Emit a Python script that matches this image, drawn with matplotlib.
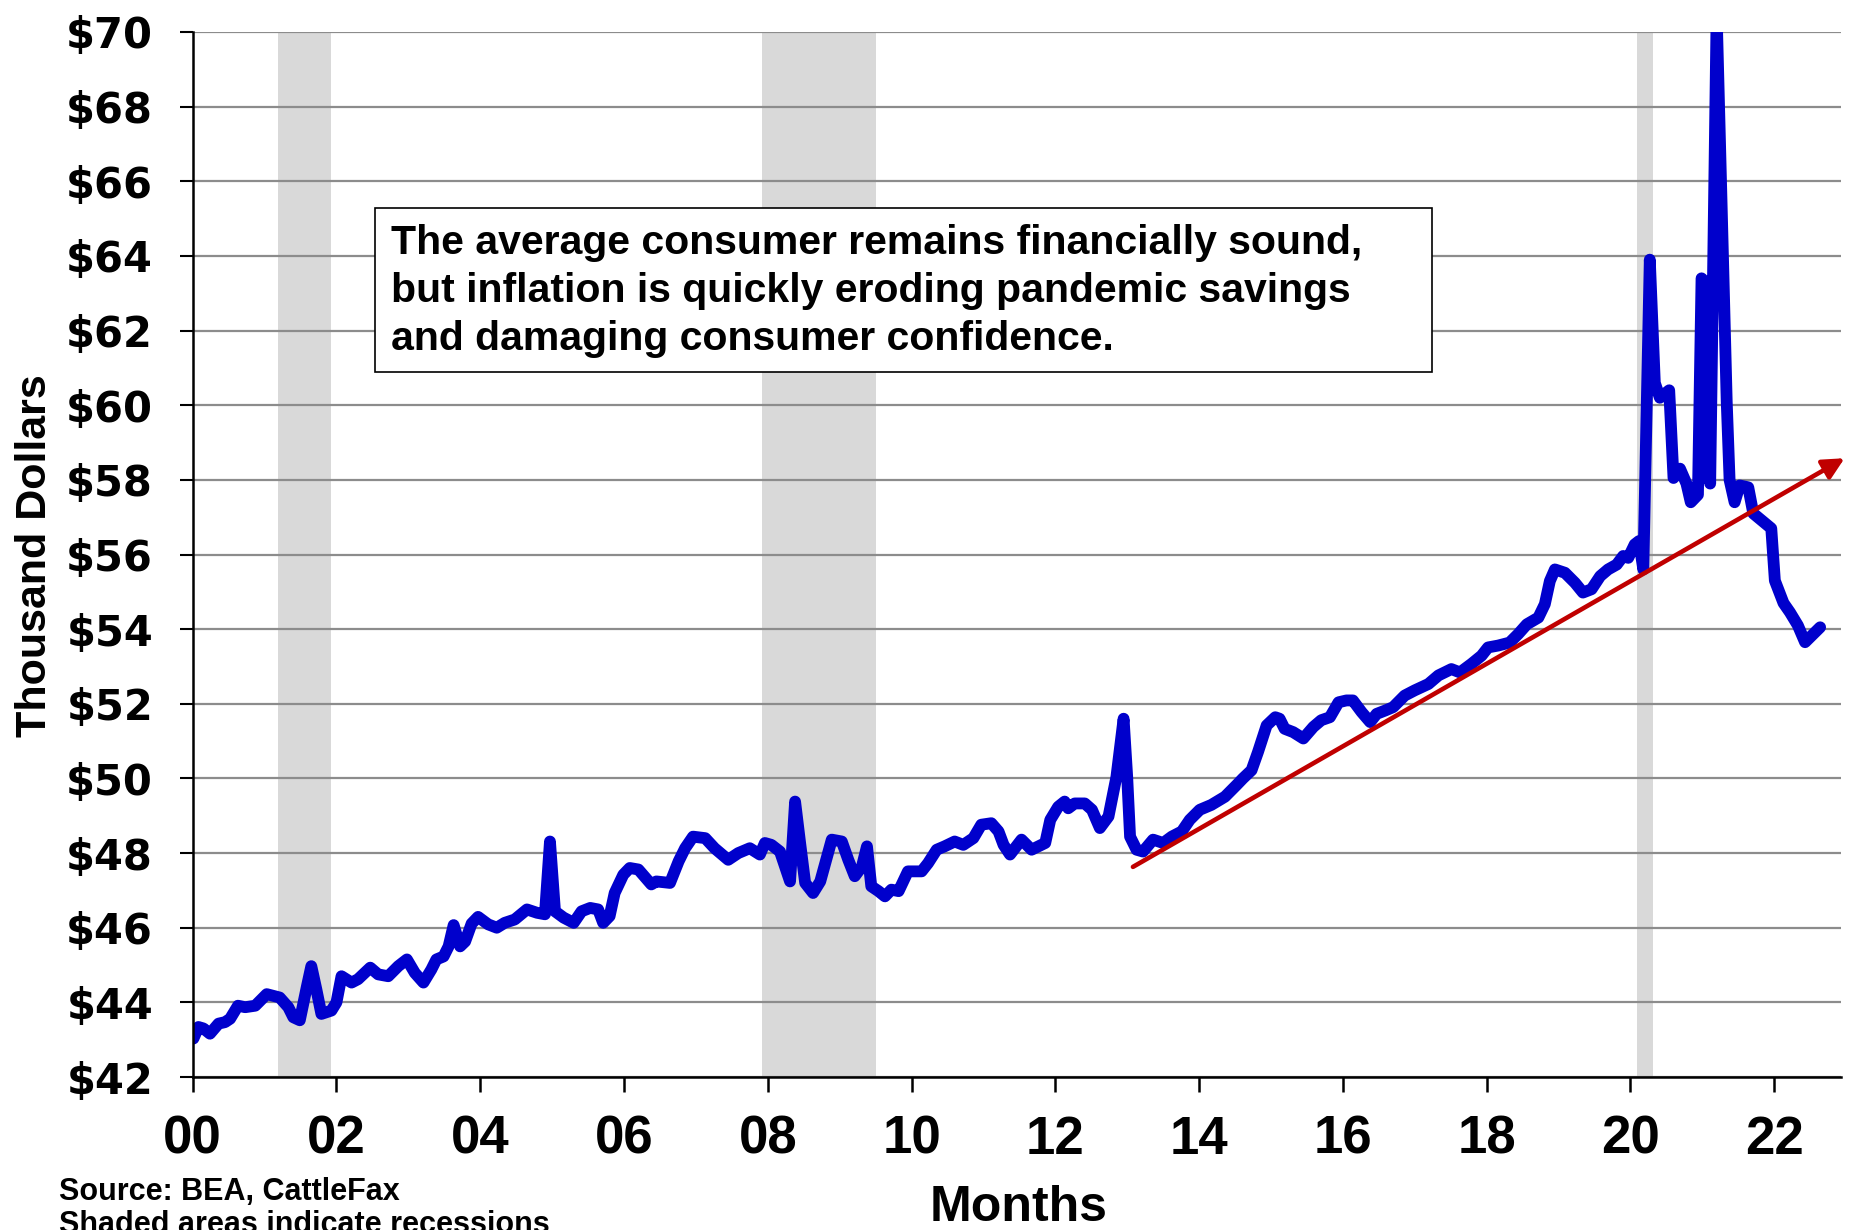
import matplotlib
matplotlib.use("Agg")
import matplotlib.pyplot as plt
from matplotlib.patches import Rectangle

# Per-capita disposable income (year, thousand dollars)
years = [
    2000.01, 2000.08, 2000.15, 2000.24, 2000.36, 2000.45, 2000.52, 2000.63, 2000.73, 2000.87,
    2001.03, 2001.21, 2001.33, 2001.40, 2001.49, 2001.59, 2001.65, 2001.72, 2001.79, 2001.93,
    2002.00, 2002.07, 2002.21, 2002.30, 2002.47, 2002.58, 2002.72, 2002.86, 2002.98, 2003.09,
    2003.21, 2003.32, 2003.39, 2003.49, 2003.56, 2003.63, 2003.72, 2003.79, 2003.88, 2003.97,
    2004.11, 2004.23, 2004.34, 2004.48, 2004.65, 2004.79, 2004.90, 2004.97, 2005.04, 2005.16,
    2005.30, 2005.41, 2005.53, 2005.64, 2005.71, 2005.80, 2005.87, 2005.99, 2006.08, 2006.20,
    2006.38, 2006.45, 2006.64, 2006.76, 2006.85, 2006.96, 2007.13, 2007.26, 2007.45, 2007.59,
    2007.75, 2007.89, 2007.96, 2008.05, 2008.17, 2008.24, 2008.31, 2008.38, 2008.45, 2008.52,
    2008.63, 2008.73, 2008.80, 2008.89, 2009.03, 2009.12, 2009.21, 2009.31, 2009.38, 2009.44,
    2009.54, 2009.63, 2009.72, 2009.82, 2009.95, 2010.14, 2010.23, 2010.35, 2010.46, 2010.60,
    2010.72, 2010.86, 2010.97, 2011.11, 2011.21, 2011.28, 2011.37, 2011.53, 2011.67, 2011.86,
    2011.93, 2012.04, 2012.13, 2012.18, 2012.27, 2012.41, 2012.51, 2012.62, 2012.74, 2012.85,
    2012.95, 2013.00, 2013.04, 2013.13, 2013.22, 2013.36, 2013.50, 2013.62, 2013.76, 2013.87,
    2014.01, 2014.17, 2014.36, 2014.52, 2014.61, 2014.73, 2014.82, 2014.94, 2015.06, 2015.12,
    2015.19, 2015.31, 2015.45, 2015.59, 2015.70, 2015.82, 2015.94, 2016.05, 2016.14, 2016.26,
    2016.38, 2016.47, 2016.59, 2016.70, 2016.86, 2017.00, 2017.19, 2017.33, 2017.51, 2017.63,
    2017.79, 2017.93, 2018.02, 2018.16, 2018.32, 2018.44, 2018.56, 2018.72, 2018.81, 2018.88,
    2018.95, 2019.09, 2019.23, 2019.34, 2019.46, 2019.58, 2019.69, 2019.81, 2019.90, 2019.97,
    2020.06, 2020.12, 2020.18, 2020.27, 2020.34, 2020.41, 2020.54, 2020.60, 2020.69, 2020.78,
    2020.84, 2020.94, 2020.99, 2021.04, 2021.11, 2021.20, 2021.34, 2021.38, 2021.45, 2021.52,
    2021.64, 2021.71, 2021.96, 2022.01, 2022.13, 2022.22, 2022.33, 2022.43, 2022.64,
]
income = [
    43.03, 43.34, 43.30, 43.16, 43.43, 43.47, 43.56, 43.91, 43.87, 43.91,
    44.22, 44.13, 43.87, 43.60, 43.52, 44.44, 44.97, 44.35, 43.69, 43.78,
    44.00, 44.70, 44.53, 44.62, 44.93, 44.75, 44.70, 44.97, 45.15, 44.79,
    44.53, 44.88, 45.15, 45.23, 45.50, 46.07, 45.50, 45.63, 46.11, 46.29,
    46.09, 46.00, 46.13, 46.22, 46.49, 46.40, 46.36, 48.31, 46.44, 46.27,
    46.13, 46.44, 46.53, 46.49, 46.13, 46.31, 46.93, 47.42, 47.60, 47.56,
    47.16, 47.24, 47.20, 47.78, 48.13, 48.44, 48.40, 48.13, 47.82, 48.00,
    48.13, 47.96, 48.27, 48.22, 48.04, 47.64, 47.24, 49.38, 48.27, 47.20,
    46.93, 47.24, 47.73, 48.36, 48.31, 47.82, 47.38, 47.64, 48.18, 47.11,
    46.98, 46.84, 47.02, 46.98, 47.51, 47.51, 47.73, 48.09, 48.18, 48.31,
    48.22, 48.40, 48.76, 48.80, 48.58, 48.22, 47.96, 48.36, 48.09, 48.27,
    48.89, 49.24, 49.38, 49.20, 49.33, 49.33, 49.16, 48.67, 48.98, 50.04,
    51.60, 50.04, 48.44, 48.09, 48.04, 48.36, 48.27, 48.44, 48.58, 48.89,
    49.16, 49.29, 49.51, 49.82, 50.00, 50.22, 50.71, 51.42, 51.64, 51.60,
    51.33, 51.24, 51.07, 51.38, 51.56, 51.64, 52.04, 52.09, 52.09, 51.78,
    51.51, 51.73, 51.82, 51.91, 52.22, 52.36, 52.53, 52.76, 52.93, 52.84,
    53.07, 53.29, 53.51, 53.56, 53.64, 53.87, 54.13, 54.31, 54.67, 55.29,
    55.60, 55.51, 55.24, 54.98, 55.07, 55.42, 55.60, 55.73, 55.96, 55.91,
    56.27, 56.36, 55.60, 63.90, 60.60, 60.20, 60.40, 58.05, 58.30, 57.90,
    57.40, 57.60, 63.40, 63.30, 57.90, 70.50, 60.10, 58.00, 57.40, 57.85,
    57.80, 57.10, 56.70, 55.30, 54.70, 54.45, 54.10, 53.65, 54.05,
]

# recession periods (start, end)
recessions = [(2001.18, 2001.92), (2007.92, 2009.50), (2020.09, 2020.32)]

# trend arrow (start, end)
trend_x = [2013.08, 2022.98]
trend_y = [47.63, 58.58]

xticks = list(range(2000, 2023, 2))
xlabels = ["%02d" % (y - 2000) for y in xticks]
yticks = list(range(42, 71, 2))
ylabels = ["$%d" % v for v in yticks]

note = ("The average consumer remains financially sound,\n"
        "but inflation is quickly eroding pandemic savings\n"
        "and damaging consumer confidence.")

W, H = 1854, 1230
fig = plt.figure(figsize=(W / 100, H / 100), dpi=100)
ax = fig.add_axes([192.7 / W, 1 - 1077 / H, (1841 - 192.7) / W, (1077 - 32) / H])

for start, end in recessions:
    ax.axvspan(start, end, color="#d9d9d9", lw=0, zorder=0)

ax.plot(years, income, color="#0000cc", lw=8.5, solid_joinstyle="round",
        solid_capstyle="round", zorder=3)

ax.annotate("", xy=(trend_x[1], trend_y[1]), xytext=(trend_x[0], trend_y[0]),
            arrowprops=dict(arrowstyle="-|>", color="#c00000", lw=3.3,
                            mutation_scale=32, shrinkA=0, shrinkB=0),
            annotation_clip=False, zorder=4)

ax.set_xlim(2000, 2022.93)
ax.set_ylim(42, 70)
ax.set_xticks(xticks)
ax.set_xticklabels(xlabels, fontfamily="Liberation Sans", fontweight="bold", fontsize=38)
ax.set_yticks(yticks)
ax.set_yticklabels(ylabels, fontfamily="DejaVu Sans", fontweight="bold", fontsize=30)
ax.tick_params(axis="y", direction="out", length=9.5, width=1.5, pad=19, color="black")
ax.tick_params(axis="x", direction="out", length=11, width=1.8, pad=16, color="black")

ax.grid(axis="y", color="#8c8c8c", lw=1.6, zorder=1)
ax.set_axisbelow(True)
for s in ["top", "right"]:
    ax.spines[s].set_visible(False)
for s in ["left", "bottom"]:
    ax.spines[s].set_linewidth(1.8)
    ax.spines[s].set_zorder(5)

fig.text(35 / W, 1 - 556 / H, "Thousand Dollars", rotation=90, ha="center", va="center",
         fontfamily="Liberation Sans", fontweight="bold", fontsize=31)
fig.text(1019 / W, 1 - 1185 / H, "Months", ha="center", va="top",
         fontfamily="Liberation Sans", fontweight="bold", fontsize=36)
fig.text(59 / W, 1 - 1177 / H, "Source: BEA, CattleFax\nShaded areas indicate recessions",
         ha="left", va="top", fontfamily="Liberation Sans", fontweight="bold",
         fontsize=22, linespacing=1.15)

fig.patches.append(Rectangle((375 / W, 1 - 372 / H), (1432 - 375) / W, (372 - 208) / H,
                             transform=fig.transFigure, facecolor="white",
                             edgecolor="black", lw=1.2, zorder=6))
fig.text(391 / W, 1 - 224 / H, note, ha="left", va="top", fontfamily="Liberation Sans",
         fontweight="bold", fontsize=29.5, linespacing=1.33, zorder=7)

fig.savefig("out.png", dpi=100)
